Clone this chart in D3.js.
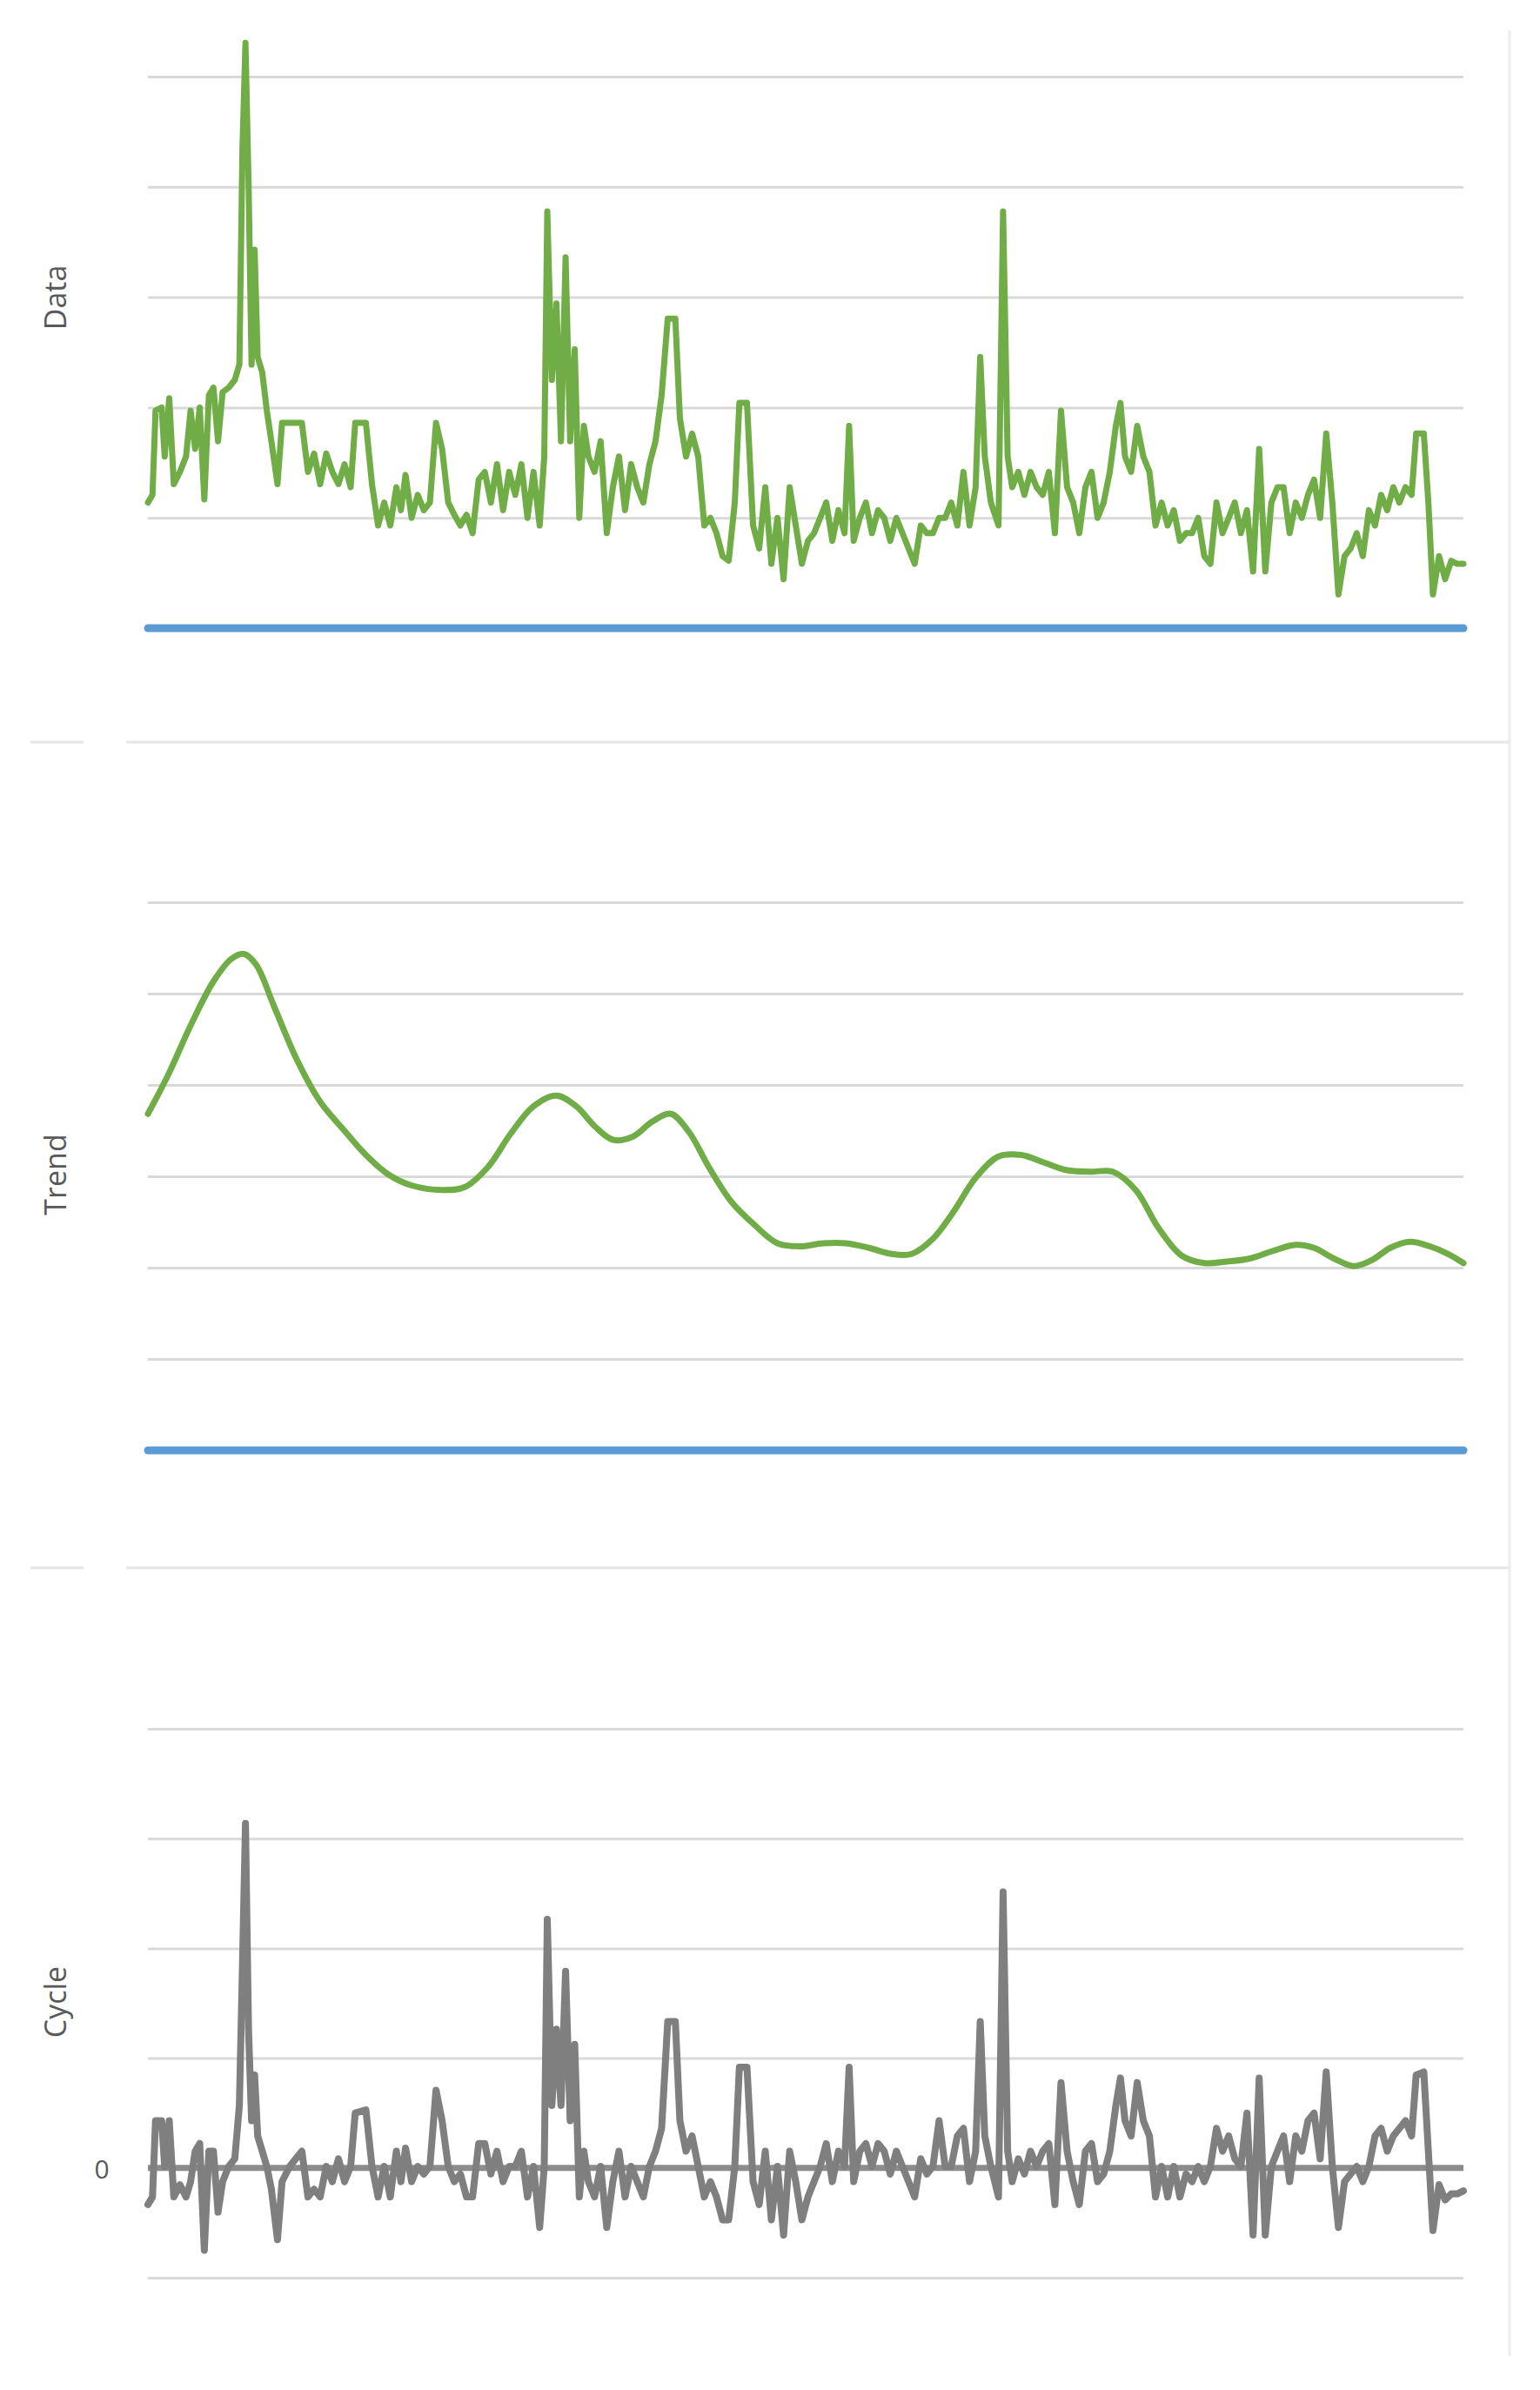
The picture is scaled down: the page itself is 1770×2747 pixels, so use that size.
<!DOCTYPE html>
<html><head><meta charset="utf-8">
<script src="https://cdn.jsdelivr.net/npm/d3@7"></script>
<style>body{margin:0;background:#fff}</style></head>
<body><svg id="c" width="1770" height="2747"></svg>
<script>
const T=[97,100,102,106,108,111,114,118,122,125,128,131,134,137,140,143,146,150,154,157,159,161,163,165,167,169,172,175,178,182,185,190,198,202,206,210,214,218,222,226,230,233,240,244,248,252,256,260,263,266,270,274,278,282,286,290,294,298,302,306,310,314,318,322,326,330,334,338,342,346,350,354,357,359,362,365,368,371,374,377,380,383,386,390,394,398,402,406,410,414,418,422,426,430,434,438,443,446,450,454,458,462,466,470,474,478,482,485,490,494,498,502,506,510,514,518,522,526,530,534,538,542,546,550,554,557,560,564,568,572,576,580,584,588,592,596,600,604,608,612,616,620,624,628,632,636,640,643,646,650,655,658,661,664,668,672,676,680,684,688,692,696,700,704,708,712,716,720,724,728,732,735,738,742,746,750,754,758,762,766,770,774,778,782,786,790,794,798,802,806,810,814,818,822,826,830,834,838,842,846,850,854,858,862,866,870,874,878,882,886,890,894,898,902,906,910,914,918,922,926,929,934,937,940,944,948,952,956,960];
const dataValues=[82,87,142,144,112,150,94,102,112,142,117,144,84,152,157,122,154,157,162,172,312,382,292,172,247,177,167,142,122,94,134,134,134,102,114,94,114,102,94,107,92,134,134,94,67,82,67,92,77,100,72,87,77,82,134,117,82,74,67,74,62,97,102,82,107,77,102,87,107,72,102,67,112,272,162,212,122,242,122,182,72,132,112,102,122,62,92,112,77,107,92,82,107,122,152,202,202,137,112,127,112,67,72,62,47,44,82,147,147,67,52,92,42,72,32,92,67,42,57,62,72,82,57,77,62,132,57,72,82,62,77,72,57,72,62,52,42,67,62,62,72,72,82,67,102,67,92,177,112,82,67,272,112,92,102,87,102,92,87,102,62,142,92,82,62,92,102,72,82,102,132,147,112,102,132,112,102,67,82,67,77,57,62,62,72,47,42,82,62,72,82,62,77,37,117,37,82,92,92,62,82,72,87,97,72,127,82,22,47,52,62,47,77,67,87,77,92,82,92,87,127,127,82,22,47,32,44,42,42];
const cycleValues=[-24,-19,31,31,1,31,-19,-11,-19,-9,11,16,-54,11,11,-29,-9,1,6,41,131,226,91,31,61,21,11,1,-14,-47,-9,1,11,-19,-14,-19,1,-9,6,-9,1,36,38,1,-19,1,-19,11,-9,13,-9,1,-4,1,51,31,1,-9,-4,-19,-19,16,16,-4,11,-9,1,1,11,-19,1,-39,1,163,41,91,41,129,31,81,-19,11,-9,-19,1,-39,-9,11,-19,1,-9,-19,1,11,26,96,96,31,11,21,1,-19,-9,-19,-34,-34,1,66,66,-9,-24,11,-34,1,-44,11,-9,-34,-19,-9,1,16,-9,11,1,66,-9,11,16,1,16,11,-4,11,1,-9,-19,6,-4,1,31,1,1,21,26,-9,11,96,21,1,-19,181,11,-9,6,-4,11,1,11,16,-24,56,11,-9,-24,11,16,-9,-4,11,41,59,31,21,56,31,21,-19,1,-19,1,-19,-4,-9,1,-9,1,26,11,21,6,1,36,-44,59,-44,1,11,21,-9,21,11,31,36,6,63,1,-39,-9,-4,1,-9,1,21,26,11,21,26,31,21,61,63,11,-41,-11,-21,-17,-17,-15];
const trendT=[97,110,125,140,152,160,168,180,195,210,225,240,255,270,290,305,320,335,350,365,378,390,402,415,428,440,452,465,480,495,510,525,540,555,570,585,598,612,625,640,655,670,685,700,715,730,745,760,775,790,805,820,835,850,862,875,888,900,912,925,938,950,960];
const trendValues=[221,246,279,308,323,326,319,291,256,229,211,194,181,174,171,173,186,208,226,233,226,213,204,206,216,221,209,186,163,148,136,134,136,136,133,129,129,139,156,179,193,194,189,184,183,183,171,146,128,123,124,126,131,135,133,126,121,125,133,137,134,129,123];
const dataTicks=[72,144,216,288,360];
const trendTicks=[60,120,180,240,300,360];
const cycleTicks=[-72,72,144,216,288];

const svg=d3.select("#c");
const x=d3.scaleLinear().domain([97,960]).range([170,1682]);
const yD=d3.scaleLinear().domain([0,360]).range([722,88]);
const yT=d3.scaleLinear().domain([0,360]).range([1667,1037]);
const yC=d3.scaleLinear().domain([-72,288]).range([2618,1987]);
const grid="#d9d9d9",green="#70ad47",blue="#5b9bd5",gray="#7f7f7f",txt="#595959";

function gridlines(y,ticks){
  svg.append("g").call(d3.axisLeft(y).tickValues(ticks).tickSize(-(1682-170)).tickFormat(""))
   .attr("transform","translate(170,0)")
   .call(g=>{g.select(".domain").remove();g.selectAll("line").attr("stroke",grid).attr("stroke-width",3);});
}
gridlines(yD,dataTicks);gridlines(yT,trendTicks);gridlines(yC,cycleTicks);

// separators and border
svg.append("line").attr("x1",145).attr("x2",1735).attr("y1",853).attr("y2",853).attr("stroke","#e6e6e6").attr("stroke-width",3);
svg.append("line").attr("x1",35).attr("x2",96).attr("y1",853).attr("y2",853).attr("stroke","#e6e6e6").attr("stroke-width",3);
svg.append("line").attr("x1",145).attr("x2",1735).attr("y1",1802).attr("y2",1802).attr("stroke","#e6e6e6").attr("stroke-width",3);
svg.append("line").attr("x1",35).attr("x2",96).attr("y1",1802).attr("y2",1802).attr("stroke","#e6e6e6").attr("stroke-width",3);
svg.append("line").attr("x1",1735).attr("x2",1735).attr("y1",35).attr("y2",2708).attr("stroke","#ececec").attr("stroke-width",3);

// baselines
svg.append("line").attr("x1",x(97)).attr("x2",x(960)).attr("y1",yD(0)).attr("y2",yD(0)).attr("stroke",blue).attr("stroke-width",9).attr("stroke-linecap","round");
svg.append("line").attr("x1",x(97)).attr("x2",x(960)).attr("y1",yT(0)).attr("y2",yT(0)).attr("stroke",blue).attr("stroke-width",9).attr("stroke-linecap","round");
svg.append("line").attr("x1",x(97)).attr("x2",x(960)).attr("y1",yC(0)).attr("y2",yC(0)).attr("stroke","#8c8c8c").attr("stroke-width",7);

const lineD=d3.line().x((d,i)=>x(T[i])).y(d=>yD(d));
svg.append("path").datum(dataValues).attr("d",lineD).attr("fill","none").attr("stroke",green).attr("stroke-width",7).attr("stroke-linejoin","round").attr("stroke-linecap","round");
const lineT=d3.line().x((d,i)=>x(trendT[i])).y(d=>yT(d)).curve(d3.curveCatmullRom);
svg.append("path").datum(trendValues).attr("d",lineT).attr("fill","none").attr("stroke",green).attr("stroke-width",7).attr("stroke-linecap","round");
const lineC=d3.line().x((d,i)=>x(T[i])).y(d=>yC(d));
svg.append("path").datum(cycleValues).attr("d",lineC).attr("fill","none").attr("stroke",gray).attr("stroke-width",8).attr("stroke-linejoin","round").attr("stroke-linecap","round");

function ylabel(t,cy){svg.append("text").attr("transform",`translate(76,${cy}) rotate(-90)`).attr("text-anchor","middle")
  .attr("font-family","Open Sans, sans-serif").attr("font-size",34).attr("fill",txt).text(t);}
ylabel("Data",342);ylabel("Trend",1350);ylabel("Cycle",2301);
svg.append("text").attr("x",117).attr("y",yC(0)+12).attr("text-anchor","middle").attr("font-family","Open Sans, sans-serif").attr("font-size",30).attr("fill",txt).text("0");
</script></body></html>
